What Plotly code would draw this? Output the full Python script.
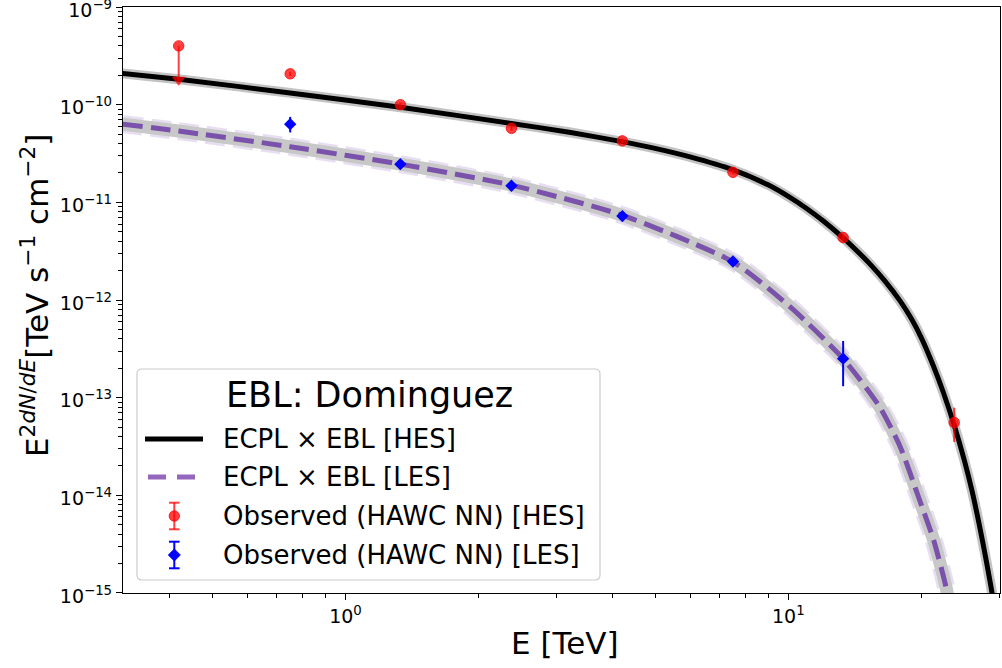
import math
import plotly.graph_objects as go

# ---------------- data ----------------
hes_E = [0.42, 0.75, 1.33, 2.37, 4.22, 7.5, 13.3, 23.7]
hes_flux = [4.0e-10, 2.07e-10, 1.0e-10, 5.72e-11, 4.26e-11, 2.03e-11, 4.36e-12, 5.56e-14]
hes_err_hi = [0.0, 1.0e-11, 5.0e-12, 3.0e-12, 2.0e-12, 1.0e-12, 2.5e-13, 2.34e-14]
hes_err_lo = [2.2e-10, 1.0e-11, 5.0e-12, 3.0e-12, 2.0e-12, 1.0e-12, 2.5e-13, 2.04e-14]
hes_is_ul = [True, False, False, False, False, False, False, False]

les_E = [0.75, 1.33, 2.37, 4.22, 7.5, 13.3]
les_flux = [6.32e-11, 2.46e-11, 1.48e-11, 7.23e-12, 2.48e-12, 2.51e-13]
les_err_hi = [1.18e-11, 1.0e-12, 6.0e-13, 3.0e-13, 1.2e-13, 1.30e-13]
les_err_lo = [1.12e-11, 1.0e-12, 6.0e-13, 3.0e-13, 1.2e-13, 1.20e-13]

hes_model_E = [0.314, 0.42, 0.75, 1.33, 2.37, 3.2, 4.24, 5.0, 6.0, 7.51, 9.0, 10.0, 11.0,
               12.0, 13.3, 14.3, 15.3, 16.5, 17.9, 19.0, 20.0, 21.27, 22.4, 23.7, 25.0,
               26.0, 27.0, 28.0, 29.0, 29.5]
hes_model_F = [2.09e-10, 1.82e-10, 1.32e-10, 9.4e-11, 6.43e-11, 5.22e-11, 4.16e-11, 3.57e-11,
               2.92e-11, 2.15e-11, 1.51e-11, 1.15e-11, 8.65e-12, 6.43e-12, 4.33e-12, 3.18e-12,
               2.33e-12, 1.58e-12, 9.73e-13, 6.34e-13, 4.05e-13, 2.11e-13, 1.13e-13, 5.22e-14,
               2.25e-14, 1.11e-14, 5.0e-15, 2.14e-15, 8.7e-16, 5.0e-16]

les_model_E = [0.314, 0.42, 0.75, 1.33, 2.37, 4.21, 7.51, 10.1, 13.3, 16.1, 17.9,
               19.8, 21.3, 22.8, 23.2]
les_model_F = [6.32e-11, 5.37e-11, 3.71e-11, 2.46e-11, 1.50e-11, 7.40e-12, 2.45e-12,
               8.5e-13, 2.51e-13, 8.0e-14, 3.13e-14, 8.9e-15, 3.47e-15, 1.06e-15, 6.0e-16]

x_major = [1, 10]
x_major_text = ["10<sup>0</sup>", "10<sup>1</sup>"]
y_exponents = [-15, -14, -13, -12, -11, -10, -9]

legend_title = "EBL: Dominguez"
legend_labels = ["ECPL × EBL [HES]", "ECPL × EBL [LES]",
                 "Observed (HAWC NN) [HES]", "Observed (HAWC NN) [LES]"]

# ---------------- styling constants ----------------
FONT = "DejaVu Sans"
W, H = 1002, 668
ML, MR, MT, MB = 123, 2, 7, 75
PW, PH = W - ML - MR, H - MT - MB
RED = "rgba(255,0,0,0.75)"
BLUE = "#0000ff"
PURPLE_LINE = "#7a52ab"
PURPLE_LEG = "#9467bd"
SM_HES = 0.6
SM_LES = 0.6


def px(xp):
    return (xp - ML) / PW


def py(yp):
    return (H - MB - yp) / PH


fig = go.Figure()

# LES model: lavender halo, grey band, purple dashed line
fig.add_trace(go.Scatter(x=les_model_E, y=les_model_F, mode="lines",
                         line=dict(color="rgba(148,103,189,0.22)", width=18, dash="20px,8px",
                                   shape="spline", smoothing=SM_LES),
                         showlegend=False, hoverinfo="skip"))
fig.add_trace(go.Scatter(x=les_model_E, y=les_model_F, mode="lines",
                         line=dict(color="rgb(200,200,200)", width=13, shape="spline", smoothing=SM_LES),
                         showlegend=False, hoverinfo="skip"))
# HES model: grey halo + black line
fig.add_trace(go.Scatter(x=hes_model_E, y=hes_model_F, mode="lines",
                         line=dict(color="rgb(195,195,195)", width=10, shape="spline", smoothing=SM_HES),
                         showlegend=False, hoverinfo="skip"))
fig.add_trace(go.Scatter(x=hes_model_E, y=hes_model_F, mode="lines",
                         line=dict(color="black", width=5, shape="spline", smoothing=SM_HES),
                         showlegend=False, hoverinfo="skip"))
fig.add_trace(go.Scatter(x=les_model_E, y=les_model_F, mode="lines",
                         line=dict(color=PURPLE_LINE, width=5, dash="20px,8px",
                                   shape="spline", smoothing=SM_LES),
                         showlegend=False, hoverinfo="skip"))

# HES observed points
fig.add_trace(go.Scatter(
    x=hes_E, y=hes_flux, mode="markers",
    marker=dict(symbol="circle", size=10.5, color=RED, line=dict(color=RED, width=1)),
    error_y=dict(type="data", symmetric=False, array=hes_err_hi, arrayminus=hes_err_lo,
                 color=RED, thickness=2, width=0),
    showlegend=False))
# upper-limit caret
ul_x = [e for e, u in zip(hes_E, hes_is_ul) if u]
ul_y = [f - lo for f, lo, u in zip(hes_flux, hes_err_lo, hes_is_ul) if u]
fig.add_trace(go.Scatter(x=ul_x, y=ul_y, mode="markers",
                         marker=dict(symbol="triangle-down", size=12, color=RED,
                                     line=dict(width=0)),
                         showlegend=False))
# LES observed points
fig.add_trace(go.Scatter(
    x=les_E, y=les_flux, mode="markers",
    marker=dict(symbol="diamond", size=9.5, color=BLUE),
    error_y=dict(type="data", symmetric=False, array=les_err_hi, arrayminus=les_err_lo,
                 color=BLUE, thickness=2, width=0),
    showlegend=False))

# ---------------- axes ----------------
x_minor = [m * 10 ** k for k in (-1, 0, 1) for m in range(2, 10)]
y_minor = [m * 10.0 ** k for k in range(-15, -9) for m in range(2, 10)]

fig.update_xaxes(type="log", range=[math.log10(0.3144), math.log10(30.07)],
                 tickmode="array", tickvals=x_major, ticktext=x_major_text,
                 ticks="outside", ticklen=6, tickwidth=1.2, tickcolor="black",
                 showline=True, linecolor="black", linewidth=1.3, mirror=True,
                 showgrid=False, zeroline=False, ticklabeloverflow="allow", automargin=False,
                 tickfont=dict(family=FONT, size=19, color="black"),
                 minor=dict(tickmode="array", tickvals=x_minor, ticks="outside", ticklen=3.5,
                            tickwidth=1, tickcolor="black", showgrid=False))
fig.update_yaxes(type="log", range=[-15.0002, -8.9998],
                 tickmode="array", tickvals=[10.0 ** e for e in y_exponents],
                 ticktext=["10<sup>−%d</sup>" % (-e) for e in y_exponents],
                 ticks="outside", ticklen=6, tickwidth=1.2, tickcolor="black",
                 showline=True, linecolor="black", linewidth=1.3, mirror=True,
                 showgrid=False, zeroline=False, ticklabeloverflow="allow", automargin=False,
                 ticklabelshift=3,
                 tickfont=dict(family=FONT, size=19, color="black"),
                 minor=dict(tickmode="array", tickvals=y_minor, ticks="outside", ticklen=3.5,
                            tickwidth=1, tickcolor="black", showgrid=False))

annotations = [
    dict(text="E [TeV]", x=px(565), y=py(643), xref="paper", yref="paper",
         showarrow=False, xanchor="center", yanchor="middle",
         font=dict(family=FONT, size=31, color="black")),
    dict(text="E<sup>2<i>dN</i>/<i>dE</i></sup>[TeV s<sup>−1</sup> cm<sup>−2</sup>]",
         x=px(35), y=py(296), xref="paper", yref="paper", textangle=-90,
         showarrow=False, xanchor="center", yanchor="middle",
         font=dict(family=FONT, size=31, color="black")),
]

# ---------------- custom legend ----------------
shapes = []
L, R, T, B = px(137), px(600), py(369), py(580)
rx, ry = 5 / PW, 5 / PH
path = (f"M {L+rx},{T} L {R-rx},{T} Q {R},{T} {R},{T-ry} L {R},{B+ry} Q {R},{B} {R-rx},{B} "
        f"L {L+rx},{B} Q {L},{B} {L},{B+ry} L {L},{T-ry} Q {L},{T} {L+rx},{T} Z")
shapes.append(dict(type="path", path=path, xref="paper", yref="paper",
                   fillcolor="rgba(255,255,255,0.85)", line=dict(color="#cccccc", width=1.2),
                   layer="above"))
# line samples
shapes.append(dict(type="line", xref="paper", yref="paper", x0=px(145), x1=px(203),
                   y0=py(439), y1=py(439), line=dict(color="black", width=5), layer="above"))
shapes.append(dict(type="line", xref="paper", yref="paper", x0=px(148), x1=px(195),
                   y0=py(477), y1=py(477), line=dict(color=PURPLE_LEG, width=5, dash="18px,11px"),
                   layer="above"))
# error-bar samples
for ycen, col in ((516, RED), (555, BLUE)):
    shapes.append(dict(type="line", xref="paper", yref="paper", x0=px(174.3), x1=px(174.3),
                       y0=py(ycen - 13.3), y1=py(ycen + 13.3), line=dict(color=col, width=2),
                       layer="above"))
    for yc in (ycen - 13.3, ycen + 13.3):
        shapes.append(dict(type="line", xref="paper", yref="paper", x0=px(169), x1=px(179.6),
                           y0=py(yc), y1=py(yc), line=dict(color=col, width=2), layer="above"))
shapes.append(dict(type="circle", xref="paper", yref="paper",
                   x0=px(174.3 - 5.2), x1=px(174.3 + 5.2), y0=py(516 + 5.2), y1=py(516 - 5.2),
                   fillcolor=RED, line=dict(color=RED, width=1), layer="above"))
cx, cy, d = 174.3, 555, 6.2
shapes.append(dict(type="path", xref="paper", yref="paper",
                   path=(f"M {px(cx)},{py(cy-d)} L {px(cx+d)},{py(cy)} L {px(cx)},{py(cy+d)} "
                         f"L {px(cx-d)},{py(cy)} Z"),
                   fillcolor=BLUE, line=dict(color=BLUE, width=0.5), layer="above"))

annotations.append(dict(text=legend_title, x=px(369), y=py(395), xref="paper", yref="paper",
                        showarrow=False, xanchor="center", yanchor="middle",
                        font=dict(family=FONT, size=35, color="black")))
for lab, yy in zip(legend_labels, (439, 477, 516, 555)):
    annotations.append(dict(text=lab, x=px(221), y=py(yy), xref="paper", yref="paper",
                            showarrow=False, xanchor="left", yanchor="middle",
                            font=dict(family=FONT, size=26, color="black")))

fig.update_layout(width=W, height=H, autosize=False,
                  margin=dict(l=ML, r=MR, t=MT, b=MB, pad=0, autoexpand=False),
                  paper_bgcolor="white", plot_bgcolor="white",
                  font=dict(family=FONT, color="black"),
                  showlegend=False, shapes=shapes, annotations=annotations)

fig.write_html("out.html")
